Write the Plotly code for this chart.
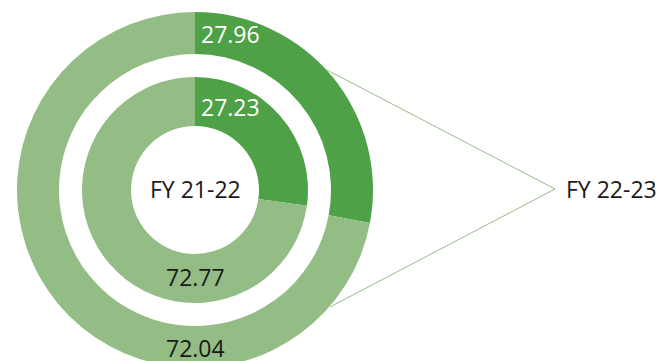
import plotly.graph_objects as go

# Share of the two components per financial year (percent)
segments = ["Share A", "Share B"]
fy_2122 = [27.23, 72.77]
fy_2223 = [27.96, 72.04]
year_inner = "FY 21-22"
year_outer = "FY 22-23"

colors = ["#4EA146", "#94BD85"]
label_colors = ["#FFFFFF", "#1A1A1A"]

W, H = 665, 380
cx, cy = 195, 190          # ring centre in pixels from top-left
r_out, r_out_hole = 178, 136
r_in, r_in_hole = 113, 64


def domain(r):
    return dict(x=[(cx - r) / W, (cx + r) / W],
                y=[(H - cy - r) / H, (H - cy + r) / H])


def px(x, y):
    return x / W, 1 - y / H


fig = go.Figure()
fig.add_trace(go.Pie(
    labels=segments, values=fy_2223, hole=r_out_hole / r_out,
    domain=domain(r_out), sort=False, direction="clockwise", rotation=0,
    marker=dict(colors=colors, line=dict(width=0)),
    textinfo="none", hoverinfo="label+value", showlegend=False,
))
fig.add_trace(go.Pie(
    labels=segments, values=fy_2122, hole=r_in_hole / r_in,
    domain=domain(r_in), sort=False, direction="clockwise", rotation=0,
    marker=dict(colors=colors, line=dict(width=0)),
    textinfo="none", hoverinfo="label+value", showlegend=False,
))

font = dict(family="Open Sans, Noto Sans, sans-serif", size=23)
annotations = []

# value labels: first segment just right of 12 o'clock, second at 6 o'clock
for vals, (y_first, y_second) in ((fy_2223, (34, 348)), (fy_2122, (107, 277))):
    x0, y0 = px(cx + 4, y_first)
    annotations.append(dict(x=x0, y=y0, xref="paper", yref="paper",
                            text=f"{vals[0]:.2f}", showarrow=False,
                            xanchor="left", yanchor="middle",
                            font=dict(font, color=label_colors[0])))
    x1, y1 = px(cx, y_second)
    annotations.append(dict(x=x1, y=y1, xref="paper", yref="paper",
                            text=f"{vals[1]:.2f}", showarrow=False,
                            xanchor="center", yanchor="middle",
                            font=dict(font, color=label_colors[1])))

# year captions
xc, yc = px(cx, cy - 1)
annotations.append(dict(x=xc, y=yc, xref="paper", yref="paper", text=year_inner,
                        showarrow=False, xanchor="center", yanchor="middle",
                        font=dict(font, color="#1A1A1A")))
xt, yt = px(564, 189)
annotations.append(dict(x=xt, y=yt, xref="paper", yref="paper", text=year_outer,
                        showarrow=False, xanchor="left", yanchor="middle",
                        font=dict(font, color="#1A1A1A")))

# callout lines pointing from the outer ring to its caption
a = px(327, 70)
b = px(555, 189)
c = px(330, 307)
shapes = [dict(type="path", xref="paper", yref="paper",
               path=f"M {a[0]},{a[1]} L {b[0]},{b[1]} L {c[0]},{c[1]}",
               line=dict(color="#94BD85", width=1))]

fig.update_layout(
    width=W, height=H, margin=dict(l=0, r=0, t=0, b=0),
    paper_bgcolor="white", plot_bgcolor="white",
    annotations=annotations, shapes=shapes,
)

fig.write_html(
    "out.html",
    config={"displayModeBar": False},
    post_script="document.documentElement.style.overflow='hidden';"
                "document.body.style.overflow='hidden';document.body.style.margin='0';",
)
